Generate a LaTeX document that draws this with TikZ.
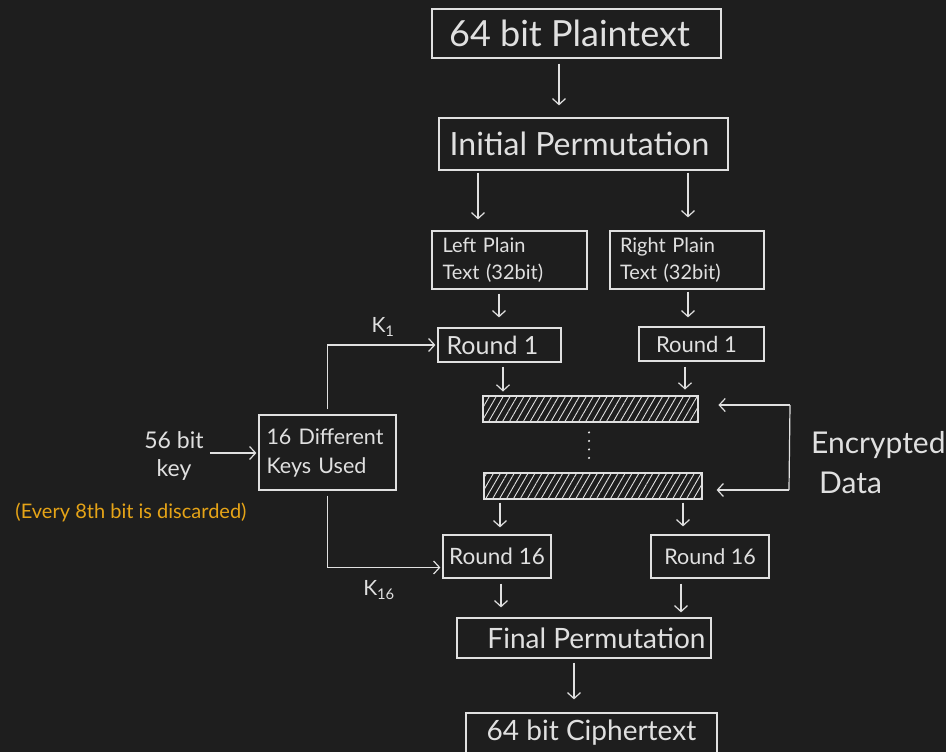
\documentclass[tikz,border=0pt]{standalone}
\usepackage{fontspec}
\setmainfont{Lato}
\usetikzlibrary{arrows.meta,patterns.meta,calc}
\definecolor{bg}{HTML}{1E1E1E}
\definecolor{ink}{HTML}{E0E0E0}
\definecolor{note}{HTML}{E6A417}
\begin{document}
\begin{tikzpicture}[x=1pt,y=-1pt,
  box/.style={draw=ink,line width=1.2pt,inner sep=0pt,text=ink},
  hatchbar/.style={draw=ink,line width=1.2pt,inner sep=0pt,
    pattern={Lines[angle=60,distance=6pt,line width=0.9pt]},pattern color=ink},
  arr/.style={draw=ink,line width=1.2pt,
    -{Straight Barb[length=6pt,width=13pt,line width=1.2pt]}},
  lbl/.style={text=ink,inner sep=0pt}]
\fill[bg] (0,0) rectangle (946,752);
\useasboundingbox (0,0) rectangle (946,752);

% boxes
\node[box,minimum width=289pt,minimum height=49pt,font=\fontsize{36}{40}\selectfont] (pt) at (576.5,33.5) {\hspace*{-14pt}64 bit Plaintext};
\node[box,minimum width=289pt,minimum height=52pt,font=\fontsize{32}{36}\selectfont] (ip) at (583.5,144) {\hspace*{-8pt}Initial Permutation};
\node[box,minimum width=155pt,minimum height=58pt,text width=134pt,align=left,font=\fontsize{20}{27}\selectfont] (lp) at (509.5,260) {Left Plain\\Text (32bit)};
\node[box,minimum width=154pt,minimum height=58pt,text width=134pt,align=left,font=\fontsize{20}{27}\selectfont] (rp) at (687,260) {Right Plain\\Text (32bit)};
\node[box,minimum width=123pt,minimum height=34pt,font=\fontsize{25}{28}\selectfont] (r1l) at (499.5,345) {\hspace*{-14pt}Round 1};
\node[box,minimum width=125pt,minimum height=34pt,font=\fontsize{22}{26}\selectfont] (r1r) at (701.5,344) {\hspace*{-10pt}Round 1};
\node[hatchbar,minimum width=215pt,minimum height=26pt] (bar1) at (590.5,409) {};
\node[hatchbar,minimum width=218pt,minimum height=26pt] (bar2) at (593,486) {};
\node[box,minimum width=108pt,minimum height=43pt,font=\fontsize{22.5}{26}\selectfont] (r16l) at (497,556.5) {Round 16};
\node[box,minimum width=118pt,minimum height=43pt,font=\fontsize{21.5}{26}\selectfont] (r16r) at (710,556.5) {Round 16};
\node[box,minimum width=254pt,minimum height=40pt,font=\fontsize{28}{32}\selectfont] (fp) at (584,638) {\hspace*{25pt}Final Permutation};
\node[box,minimum width=251pt,minimum height=54pt,text depth=20pt,font=\fontsize{28}{32}\selectfont] (ct) at (591.5,740) {64 bit Ciphertext};
\node[box,minimum width=137pt,minimum height=75pt,text width=122pt,align=left,font=\fontsize{21.5}{29}\selectfont] (keys) at (327.5,452.5) {16 Different\\Keys Used};

% texts
\node[lbl,align=center,font=\fontsize{23}{28}\selectfont] (key) at (174,456) {56 bit\\key};
\node[text=note,inner sep=0pt,font=\fontsize{20}{22}\selectfont] (note) at (131,512) {(Every 8th bit is discarded)};
\node[lbl,font=\fontsize{21}{24}\selectfont] (k1) at (383,327) {K\textsubscript{1}};
\node[lbl,font=\fontsize{21}{24}\selectfont] (k16) at (379,590) {K\textsubscript{16}};
\node[lbl,anchor=west,align=left,font=\fontsize{30}{40}\selectfont] (enc) at (811,463) {Encrypted\\\hspace{8pt}Data};

% main flow arrows
\draw[arr,shorten <=5pt,shorten >=12pt] (559,0 |- pt.south) -- (559,0 |- ip.north);
\draw[arr,shorten <=2pt,shorten >=11pt] (478,0 |- ip.south) -- (478,0 |- lp.north);
\draw[arr,shorten <=2pt,shorten >=13pt] (688,0 |- ip.south) -- (688,0 |- rp.north);
\draw[arr,shorten <=4pt,shorten >=10pt] (499,0 |- lp.south) -- (499,0 |- r1l.north);
\draw[arr,shorten <=2pt,shorten >=9pt] (688,0 |- rp.south) -- (688,0 |- r1r.north);
\draw[arr,shorten <=4pt,shorten >=4pt] (503,0 |- r1l.south) -- (503,0 |- bar1.north);
\draw[arr,shorten <=5pt,shorten >=6pt] (685,0 |- r1r.south) -- (685,0 |- bar1.north);
\draw[arr,shorten <=3pt,shorten >=7pt] (500,0 |- bar2.south) -- (500,0 |- r16l.north);
\draw[arr,shorten <=3pt,shorten >=8pt] (683,0 |- bar2.south) -- (683,0 |- r16r.north);
\draw[arr,shorten <=5pt,shorten >=10pt] (501,0 |- r16l.south) -- (501,0 |- fp.north);
\draw[arr,shorten <=5pt,shorten >=5pt] (681,0 |- r16r.south) -- (681,0 |- fp.north);
\draw[arr,shorten <=4pt,shorten >=13pt] (574,0 |- fp.south) -- (574,0 |- ct.north);

% dots between bars
\draw[ink,line width=2.4pt,line cap=round,dash pattern=on 0pt off 8.5pt,shorten <=10pt,shorten >=7pt] (589,0 |- bar1.south) -- (589,0 |- bar2.north);

% key arrows
\draw[arr,shorten >=2pt] (key.east) ++(6,-3) -- (keys.west |- 0,453);
\draw[arr,shorten <=5pt,shorten >=2pt] (keys.north) |- (r1l.west);
\draw[arr,shorten <=5pt,shorten >=2pt] (keys.south) |- ([yshift=-11pt]r16l.west);

% encrypted data bracket
\coordinate (bt) at (790,405);
\coordinate (bb) at (789,490);
\draw[ink,line width=1.2pt] (bt) -- (bb);
\draw[arr,shorten >=20pt] (bt) -- (bt -| bar1.east);
\draw[arr,shorten >=14pt] (bb) -- (bb -| bar2.east);
\end{tikzpicture}
\end{document}
